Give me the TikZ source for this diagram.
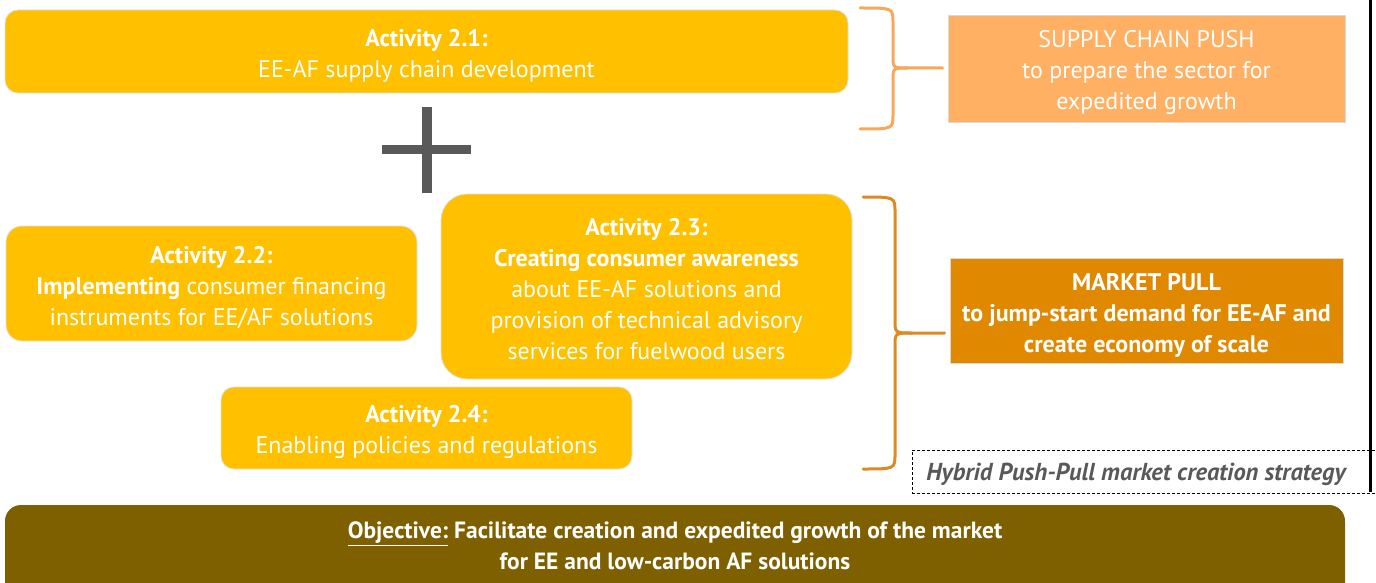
\documentclass[tikz,border=0pt]{standalone}
\usepackage{fontspec}
\setmainfont{PT Sans}
\usetikzlibrary{calc}
\definecolor{actyellow}{HTML}{FFC000}
\definecolor{pushorange}{HTML}{FFB063}
\definecolor{pushbrace}{HTML}{F8A85A}
\definecolor{pullorange}{HTML}{E08800}
\definecolor{pullbrace}{HTML}{DD8A20}
\definecolor{objolive}{HTML}{7F6000}
\definecolor{plusgray}{HTML}{595959}
\tikzset{
  actbox/.style={fill=actyellow, draw=black!12, line width=0.8pt, inner sep=0pt},
  sidebox/.style={draw=black!15, line width=0.8pt, inner sep=0pt},
  boxtext/.style={text=white, align=center, inner sep=0pt, font=\fontsize{24}{31}\selectfont},
  bracket/.style={line width=3pt, line cap=round, line join=round},
}
\begin{document}
\begin{tikzpicture}[x=1pt,y=-1pt]
\useasboundingbox (0,0) rectangle (1376,583);
% activity boxes
\node[actbox, rounded corners=13pt, minimum width=843pt, minimum height=83pt] (a21) at (426.5,51.5) {};
\node[boxtext] (a21t) at ([yshift=-4.5pt]a21.center)
  {\textbf{Activity 2.1:}\\EE-AF supply chain development};
\node[actbox, rounded corners=16pt, minimum width=411pt, minimum height=115pt] (a22) at (211.5,283.5) {};
\node[boxtext] (a22t) at ([yshift=-4.5pt]a22.center)
  {\textbf{Activity 2.2:}\\\textbf{Implementing} consumer financing\\instruments for EE/AF solutions};
\node[actbox, rounded corners=26pt, minimum width=411pt, minimum height=185pt] (a23) at (646.5,286.5) {};
\node[boxtext] (a23t) at ([yshift=-2.5pt]a23.center)
  {\textbf{Activity 2.3:}\\\textbf{Creating consumer awareness}\\about EE-AF solutions and\\provision of technical advisory\\services for fuelwood users};
\node[actbox, rounded corners=13pt, minimum width=411pt, minimum height=82pt] (a24) at (426.5,428) {};
\node[boxtext] (a24t) at ([yshift=-4pt]a24.center)
  {\textbf{Activity 2.4:}\\Enabling policies and regulations};
% plus sign
\node[fill=plusgray, minimum width=89pt, minimum height=9pt, inner sep=0pt] (plush) at (426.5,150) {};
\node[fill=plusgray, minimum width=10pt, minimum height=86pt, inner sep=0pt] (plusv) at (426.5,150) {};
% side boxes
\node[sidebox, fill=pushorange, minimum width=397pt, minimum height=107pt] (push) at (1146.5,68.5) {};
\node[boxtext] (pusht) at ([yshift=-4.5pt]push.center)
  {SUPPLY CHAIN PUSH\\to prepare the sector for\\expedited growth};
\node[sidebox, fill=pullorange, minimum width=393pt, minimum height=105pt] (pull) at (1146.5,310.5) {};
\node[boxtext, font=\fontsize{24}{31}\selectfont\bfseries] (pullt) at ([yshift=-4.5pt]pull.center)
  {MARKET PULL\\to jump-start demand for EE-AF and\\create economy of scale};
% braces
\coordinate (pbt) at (860,8);
\coordinate (pbb) at (860,129);
\coordinate (ptip) at (908,68);
\draw[bracket, pushbrace] (pbt) .. controls (893,8) .. (893,22) -- (893,56)
  .. controls (893,68) .. (ptip) -- ([xshift=-5pt]ptip -| push.west);
\draw[bracket, pushbrace] (pbb) .. controls (893,129) .. (893,115) -- (893,80)
  .. controls (893,68) .. (ptip);
\coordinate (mbt) at (863,197);
\coordinate (mbb) at (863,469);
\coordinate (mtip) at (912,333);
\draw[bracket, pullbrace] (mbt) .. controls (895,197) .. (895,212) -- (895,320)
  .. controls (895,333) .. (mtip) -- ([xshift=-5pt]mtip -| pull.west);
\draw[bracket, pullbrace] (mbb) .. controls (895,469) .. (895,454) -- (895,346)
  .. controls (895,333) .. (mtip);
% hybrid dashed label
\node[draw=black, dash pattern=on 3pt off 2pt, line width=0.8pt, minimum width=470pt, minimum height=43pt,
  inner sep=0pt] (hyb) at (1147,471.5) {};
\node[text=plusgray, font=\fontsize{24.5}{28}\selectfont\bfseries\itshape, anchor=center] (hybt) at (1136,474)
  {Hybrid Push-Pull market creation strategy};
% right border line
\coordinate (rt) at (1370,0);
\coordinate (rb) at (1370,492);
\draw[line width=3pt, black] (rt) -- (rb);
% objective
\fill[objolive, rounded corners=16pt] (5,600) -- (5,505) -- (1345,505) -- (1345,600) -- cycle;
\node[text=white, align=center, font=\fontsize{23.5}{31}\selectfont\bfseries] (obj) at (675,546)
  {\underline{Objective:} Facilitate creation and expedited growth of the market\\for EE and low-carbon AF solutions};
\end{tikzpicture}
\end{document}
